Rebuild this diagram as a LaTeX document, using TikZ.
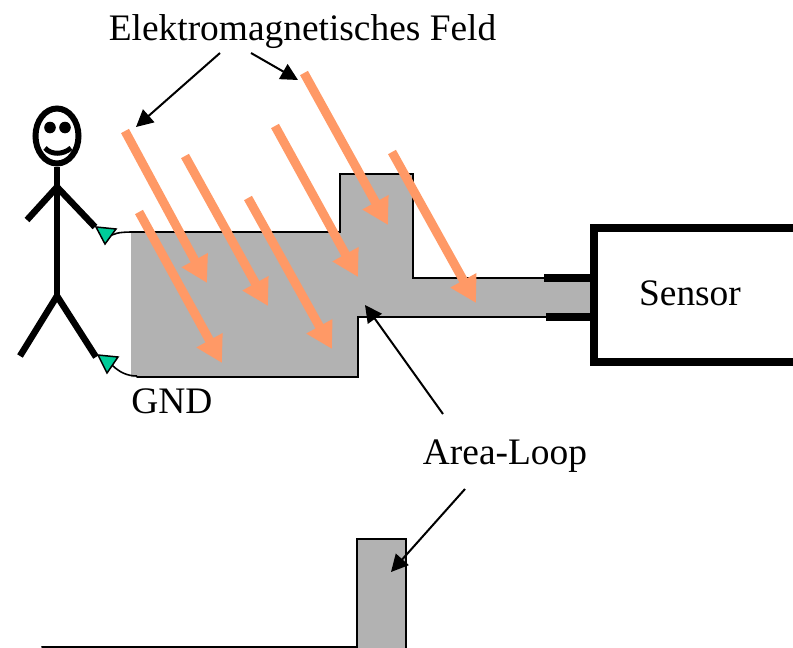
\documentclass[tikz,border=0pt]{standalone}
\usepackage{fontspec}
\setmainfont{Liberation Serif}
\usetikzlibrary{arrows.meta,shapes.geometric}
\definecolor{fieldc}{HTML}{FF9966}
\definecolor{areac}{HTML}{B2B2B2}
\definecolor{clipc}{HTML}{00CC99}
\tikzset{
  x=1pt,y=-1pt,
  textlabel/.style={inner sep=0pt,font=\fontsize{37.4}{37.4}\selectfont},
  fieldarrow/.style={draw=fieldc,line width=9pt,-{Triangle[length=26pt,width=28pt]}},
  pointer/.style={draw=black,line width=2pt,-{Triangle[length=17pt,width=17pt]}},
  outlinepath/.style={draw=black,line width=2pt,line cap=round},
  areafill/.style={fill=areac,draw=none},
  bodyline/.style={draw=black,line width=6.5pt},
  sensorline/.style={draw=black,line width=8pt},
  clipmark/.style={fill=clipc,draw=black,line width=1.5pt},
}
\begin{document}
\begin{tikzpicture}
\useasboundingbox (0,0) rectangle (793,648);
% upper area
\fill[areafill] (131,232) -- (340,232) -- (340,174) -- (413,174) -- (413,278) -- (592,278) -- (592,317) -- (358,317) -- (358,377) -- (131,377) -- cycle;
\draw[outlinepath] (137,232) -- (340,232) -- (340,174) -- (413,174) -- (413,278) -- (544,278);
\draw[outlinepath] (546,317) -- (358,317) -- (358,377) -- (137,377);
% lower area
\fill[areafill] (357,648) -- (357,539) -- (406,539) -- (406,648) -- cycle;
\draw[outlinepath] (42,647) -- (357,647) -- (357,539) -- (406,539) -- (406,648);
% sensor
\draw[sensorline] (793,228) -- (594,228) -- (594,362) -- (793,362);
\draw[sensorline] (544,277.5) -- (594,277.5);
\draw[sensorline] (546,317) -- (594,317);
% person
\node[draw=black,line width=6pt,ellipse,minimum width=43pt,minimum height=55pt,inner sep=0pt] (head) at (57,136) {};
\fill (50,127.5) circle (5.8);
\fill (65,127.5) circle (5.8);
\draw[draw=black,line width=5pt] (45,148) .. controls (51,155) and (63,155) .. (71,148);
\coordinate (shoulder) at (57,187);
\coordinate (hip) at (57,296);
\coordinate (handL) at (27,220);
\coordinate (handR) at (95,227);
\coordinate (footL) at (20,356);
\coordinate (footR) at (96,357);
\draw[bodyline] (head.south) -- (hip);
\draw[bodyline] (handL) -- (shoulder) -- (handR);
\draw[bodyline] (footL) -- (hip) -- (footR);
% clips
\coordinate (clipA) at (112,235);
\coordinate (clipB) at (112,365);
\coordinate (gndA) at (137,232);
\coordinate (gndB) at (137,376);
\draw[line width=1.6pt] (clipA) .. controls (118,232) and (126,232) .. (gndA);
\draw[line width=1.6pt] (clipB) .. controls (119,372) and (127,376) .. (gndB);
\filldraw[clipmark] (96,227) -- (116,229) -- (105,244) -- cycle;
\filldraw[clipmark] (98,355) -- (118,357) -- (107,373) -- cycle;
% field arrows
\draw[fieldarrow] (125,131) -- (207,283);
\draw[fieldarrow] (185,156) -- (268,306);
\draw[fieldarrow] (139,212) -- (222,363);
\draw[fieldarrow] (248,198) -- (332,349);
\draw[fieldarrow] (275,126) -- (358,277);
\draw[fieldarrow] (304,73) -- (388,225);
\draw[fieldarrow] (392,152) -- (476,303);
% labels
\node[textlabel] (feld) at (302.5,31.5) {Elektromagnetisches Feld};
\node[textlabel] (sensor) at (690,293.5) {Sensor};
\node[textlabel] (gnd) at (172,401) {GND};
\node[textlabel] (loop) at (505,456.5) {Area-Loop};
% pointers
\coordinate (f1) at (220,53);
\coordinate (f2) at (251,53);
\coordinate (l1) at (443,414);
\coordinate (l2) at (465,489);
\coordinate (t1) at (136,127);
\coordinate (t2) at (298,80);
\coordinate (t3) at (365,305);
\coordinate (t4) at (391,572);
\draw[pointer] (f1) -- (t1);
\draw[pointer] (f2) -- (t2);
\draw[pointer] (l1) -- (t3);
\draw[pointer] (l2) -- (t4);
\end{tikzpicture}
\end{document}
